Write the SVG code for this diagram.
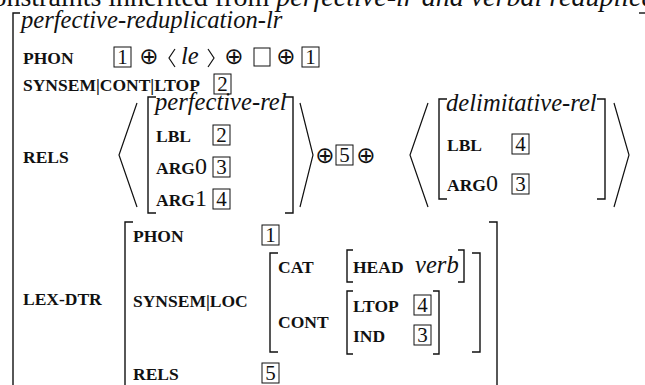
<svg xmlns="http://www.w3.org/2000/svg" width="645" height="385" viewBox="0 0 645 385">
<style>
text{font-family:"Liberation Serif","DejaVu Serif",serif;fill:#111}
.ty{font-style:italic;font-size:24.6px}
.f{font-size:17.5px;font-weight:bold}
.n{font-size:24px;font-weight:normal}
.d{font-size:21px;text-anchor:middle}
.op{font-family:"DejaVu Sans",sans-serif;font-size:23px;text-anchor:middle}
.br{fill:none;stroke:#111;stroke-width:1.4}
.ang{fill:none;stroke:#111;stroke-width:1.2}
.bx{fill:none;stroke:#111;stroke-width:1}
</style>
<rect width="645" height="385" fill="#fff"/>
<text x="-20" y="5.5" font-size="28">constraints inherited from <tspan font-style="italic">perfective-lr and verbal reduplication-lr</tspan></text>
<g id="outer">
<path class="br" d="M20,13H13V400"/>
<path class="br" d="M639,13H650"/>
<text class="ty" x="21" y="28">perfective-reduplication-lr</text>
</g>
<g id="phon">
<text class="f" x="23" y="64">PHON</text>
<rect class="bx" x="114" y="47" width="17" height="20"/><text class="d" x="122.5" y="64">1</text>
<text class="op" x="149" y="64">⊕</text>
<polyline class="ang" points="175,49 169,58 175,67"/>
<text class="ty" x="181" y="64">le</text>
<polyline class="ang" points="208,49 214,58 208,67"/>
<text class="op" x="234" y="64">⊕</text>
<rect class="bx" x="254" y="48" width="16" height="18"/>
<text class="op" x="286" y="64">⊕</text>
<rect class="bx" x="302" y="47" width="17" height="20"/><text class="d" x="310.5" y="64">1</text>
</g>
<g id="ltop">
<text class="f" x="23" y="91">SYNSEM|CONT|LTOP</text>
<rect class="bx" x="214" y="74" width="17" height="20"/><text class="d" x="222.5" y="91">2</text>
</g>
<g id="rels">
<text class="f" x="23" y="163">RELS</text>
<polyline class="ang" points="137,103 119,155 137,207"/>
<g id="perfective-rel">
<path class="br" d="M156,97H148V213H156"/>
<path class="br" d="M285,97H293V213H285"/>
<text class="ty" x="155" y="110">perfective-rel</text>
<text class="f" x="156" y="142">LBL</text>
<rect class="bx" x="213" y="125" width="17" height="20"/><text class="d" x="221.5" y="142">2</text>
<text class="f" x="156" y="174">ARG<tspan class="n">0</tspan></text>
<rect class="bx" x="213" y="157" width="17" height="20"/><text class="d" x="221.5" y="174">3</text>
<text class="f" x="156" y="206">ARG<tspan class="n">1</tspan></text>
<rect class="bx" x="213" y="189" width="17" height="20"/><text class="d" x="221.5" y="206">4</text>
</g>
<polyline class="ang" points="300,103 313,155 300,207"/>
<text class="op" x="325" y="163">⊕</text>
<rect class="bx" x="336" y="145" width="17" height="20"/><text class="d" x="344.5" y="162">5</text>
<text class="op" x="366" y="163">⊕</text>
<polyline class="ang" points="428,103 410,155 428,207"/>
<g id="delimitative-rel">
<path class="br" d="M447,99H439V199H447"/>
<path class="br" d="M597,99H605V199H597"/>
<text class="ty" x="446" y="111">delimitative-rel</text>
<text class="f" x="447" y="151">LBL</text>
<rect class="bx" x="512" y="134" width="17" height="20"/><text class="d" x="520.5" y="151">4</text>
<text class="f" x="447" y="191">ARG<tspan class="n">0</tspan></text>
<rect class="bx" x="512" y="174" width="17" height="20"/><text class="d" x="520.5" y="191">3</text>
</g>
<polyline class="ang" points="614,103 629,155 614,207"/>
</g>
<g id="lex-dtr">
<text class="f" x="23" y="305">LEX-DTR</text>
<path class="br" d="M133,222H125V400"/>
<path class="br" d="M489,222H497V400"/>
<text class="f" x="133" y="242">PHON</text>
<rect class="bx" x="262" y="225" width="17" height="20"/><text class="d" x="270.5" y="242">1</text>
<text class="f" x="133" y="307">SYNSEM|LOC</text>
<g id="loc">
<path class="br" d="M278,253H270V352H278"/>
<path class="br" d="M472,253H480V352H472"/>
<text class="f" x="278" y="273">CAT</text>
<path class="br" d="M353,250H347V282H353"/>
<text class="f" x="353" y="273">HEAD</text>
<text class="ty" x="415" y="273">verb</text>
<path class="br" d="M458,250H464V282H458"/>
<text class="f" x="278" y="328">CONT</text>
<path class="br" d="M353,291H347V354H353"/>
<text class="f" x="353" y="312">LTOP</text>
<rect class="bx" x="414" y="295" width="17" height="20"/><text class="d" x="422.5" y="312">4</text>
<text class="f" x="353" y="342">IND</text>
<rect class="bx" x="414" y="325" width="17" height="20"/><text class="d" x="422.5" y="342">3</text>
<path class="br" d="M433,291H439V354H433"/>
</g>
<text class="f" x="133" y="380">RELS</text>
<rect class="bx" x="262" y="363" width="17" height="20"/><text class="d" x="270.5" y="380">5</text>
</g>
</svg>
